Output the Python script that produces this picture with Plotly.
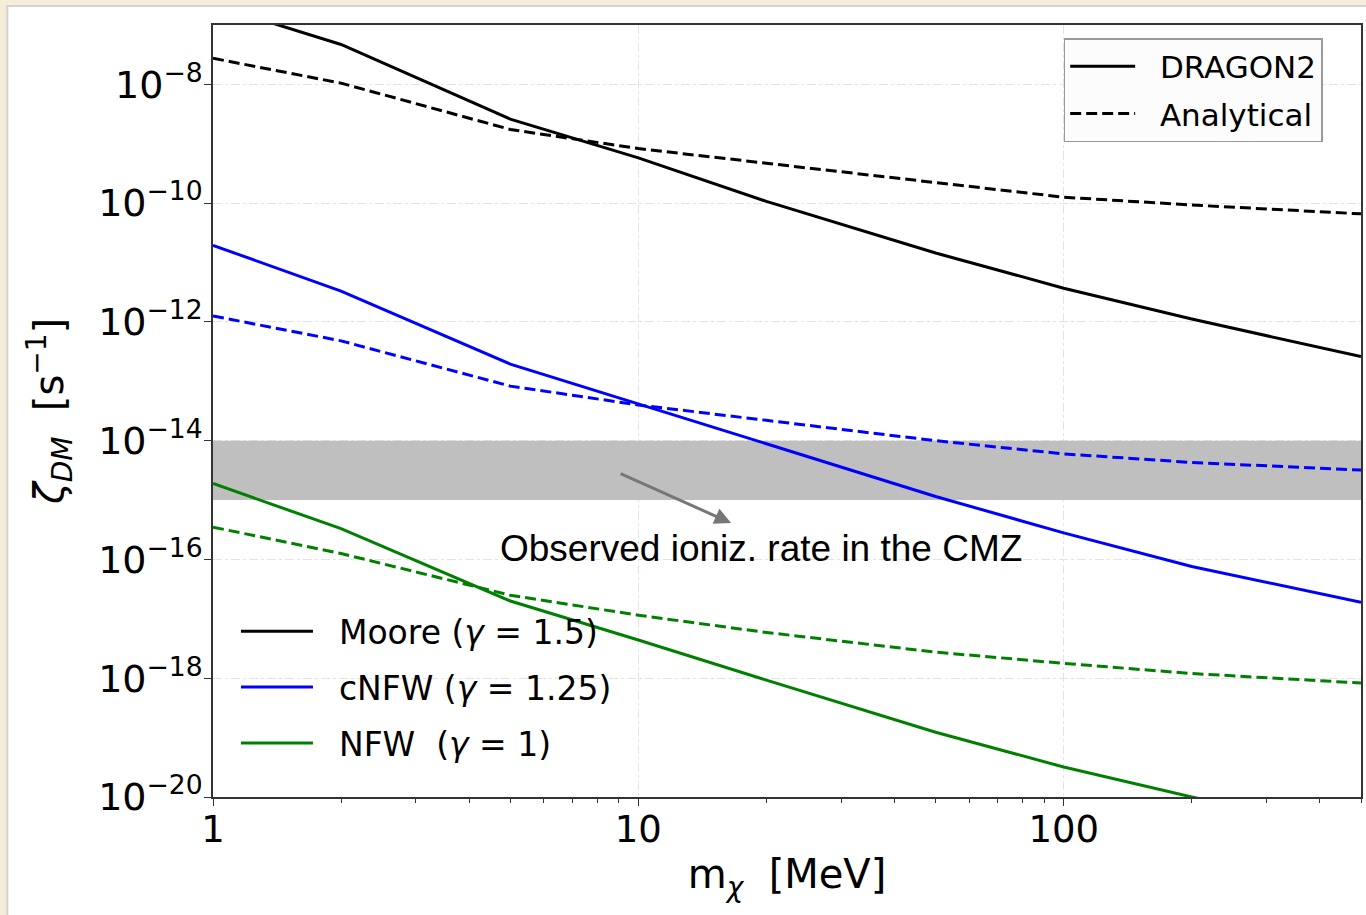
import plotly.graph_objects as go

# ---------------- data ----------------
masses = [1, 2, 5, 10, 20, 50, 100, 200, 500]  # MeV

moore_dragon = [2.2e-7, 4.7e-8, 2.6e-9, 5.8e-10, 1.07e-10, 1.45e-11, 3.7e-12, 1.12e-12, 2.6e-13]
moore_analytical = [2.75e-8, 1.05e-8, 1.74e-9, 8.3e-10, 4.7e-10, 2.2e-10, 1.26e-10, 9.3e-11, 6.6e-11]

cnfw_dragon = [1.95e-11, 3.3e-12, 1.95e-13, 4.2e-14, 8.9e-15, 1.15e-15, 2.8e-16, 7.6e-17, 1.9e-17]
cnfw_analytical = [1.26e-12, 4.8e-13, 8.3e-14, 4.0e-14, 2.2e-14, 1.0e-14, 6.0e-15, 4.3e-15, 3.2e-15]

nfw_dragon = [1.9e-15, 3.3e-16, 2.0e-17, 4.4e-18, 9.3e-19, 1.23e-19, 3.2e-20, 1.0e-20, 2.4e-21]
nfw_analytical = [3.5e-16, 1.26e-16, 2.5e-17, 1.15e-17, 5.9e-18, 2.75e-18, 1.78e-18, 1.2e-18, 8.3e-19]

band_x = [1, 500]
band_low, band_high = 1e-15, 1e-14

profile_names = ["Moore (<i>γ</i> = 1.5)", "cNFW (<i>γ</i> = 1.25)", "NFW\u00a0\u00a0(<i>γ</i> = 1)"]
profile_colors = ["#000000", "#0000FF", "#008000"]
method_names = ["DRAGON2", "Analytical"]

x_tickvals = [1, 10, 100]
x_ticktext = ["1", "10", "100"]
x_minor = [2, 3, 4, 5, 6, 7, 8, 9, 20, 30, 40, 50, 60, 70, 80, 90, 200, 300, 400, 500]
y_exps = [-20, -18, -16, -14, -12, -10, -8]

DASH = "11px,5px"
FONT = "DejaVu Sans"
PAD2 = "\u00a0\u00a0"
PAD1 = "\u00a0\u00a0"

fig = go.Figure()

# observed band
fig.add_trace(go.Scatter(
    x=[band_x[0], band_x[1], band_x[1], band_x[0], band_x[0]],
    y=[band_low, band_low, band_high, band_high, band_low],
    fill="toself", fillcolor="#BFBFBF", mode="none",
    showlegend=False, hoverinfo="skip"))

dragon = [moore_dragon, cnfw_dragon, nfw_dragon]
analytic = [moore_analytical, cnfw_analytical, nfw_analytical]

for i in range(3):
    fig.add_trace(go.Scatter(
        x=masses, y=dragon[i], mode="lines",
        line=dict(color=profile_colors[i], width=3),
        name=PAD2 + profile_names[i], legend="legend2", legendgroup="g%d" % i,
        showlegend=True))
    fig.add_trace(go.Scatter(
        x=masses, y=analytic[i], mode="lines",
        line=dict(color=profile_colors[i], width=3, dash=DASH),
        showlegend=False))

# method legend entries
fig.add_trace(go.Scatter(x=[None], y=[None], mode="lines",
                         line=dict(color="black", width=3),
                         name=PAD1 + method_names[0], legend="legend", legendgroup="m0"))
fig.add_trace(go.Scatter(x=[None], y=[None], mode="lines",
                         line=dict(color="black", width=3, dash=DASH),
                         name=PAD1 + method_names[1], legend="legend", legendgroup="m1"))

# annotation text and arrow
fig.add_annotation(xref="paper", yref="paper", x=0.4774, y=0.3225,
                   text="Observed ioniz. rate in the CMZ", showarrow=False,
                   font=dict(family="Liberation Sans", size=37, color="black"),
                   xanchor="center", yanchor="middle")
fig.add_annotation(xref="paper", yref="paper", x=0.4513, y=0.3549,
                   ax=-112, ay=-50, text="", showarrow=True,
                   arrowhead=2, arrowsize=1.1, arrowwidth=3, arrowcolor="#777777")

# white panel with border on cream background
fig.add_shape(type="rect", xref="paper", yref="paper",
              x0=(7 - 213) / 1150, x1=(1370 - 213) / 1150,
              y0=(797 - 920) / 772, y1=(797 - 6) / 772,
              fillcolor="white", line=dict(color="#D2D2D2", width=2), layer="below")

fig.update_layout(
    width=1366, height=915, autosize=False,
    margin=dict(l=213, r=3, t=25, b=118),
    paper_bgcolor="#F6ECDA", plot_bgcolor="white",
    font=dict(family=FONT, color="black"),
    legend=dict(x=0.741, y=0.983, xanchor="left", yanchor="top",
                bgcolor="#FCFCFC", bordercolor="#999999", borderwidth=1.5,
                font=dict(size=31, family=FONT), itemwidth=65,
                traceorder="grouped", tracegroupgap=4),
    legend2=dict(x=0.02, y=0.251, xanchor="left", yanchor="top",
                 bgcolor="rgba(0,0,0,0)", borderwidth=0,
                 font=dict(size=33, family=FONT), itemwidth=72,
                 traceorder="grouped", tracegroupgap=10),
    xaxis=dict(type="log", range=[0, 2.69897], tickmode="array",
               tickvals=x_tickvals, ticktext=x_ticktext,
               ticks="outside", ticklen=7, tickwidth=1.3, tickcolor="#333333",
               tickfont=dict(size=37, family=FONT), ticklabelstandoff=-8,
               minor=dict(tickmode="array", tickvals=x_minor, ticks="outside",
                          ticklen=4, tickwidth=1, tickcolor="#333333", showgrid=False),
               showgrid=True, gridcolor="#E4E4E4", gridwidth=1.2, griddash="dashdot",
               showline=True, linecolor="#333333", linewidth=1.5, mirror=True,
               zeroline=False,
               title=dict(text="m<sub><i>χ</i></sub>\u00a0\u00a0[MeV]",
                          font=dict(size=40, family=FONT), standoff=10)),
    yaxis=dict(type="log", range=[-20, -7], tickmode="array",
               tickvals=[10.0 ** e for e in y_exps],
               ticktext=["10<sup>−%d</sup>" % (-e) for e in y_exps],
               ticks="outside", ticklen=7, tickwidth=1.3, tickcolor="#333333",
               tickfont=dict(size=38, family=FONT), ticklabelstandoff=-6,
               showgrid=True, gridcolor="#E4E4E4", gridwidth=1.2, griddash="dashdot",
               showline=True, linecolor="#333333", linewidth=1.5, mirror=True,
               zeroline=False,
               title=dict(text="<i>ζ</i><sub><i>DM</i></sub>\u00a0\u00a0[s<sup>−1</sup>]",
                          font=dict(size=40, family=FONT), standoff=22)),
)

fig.write_html("out.html")
